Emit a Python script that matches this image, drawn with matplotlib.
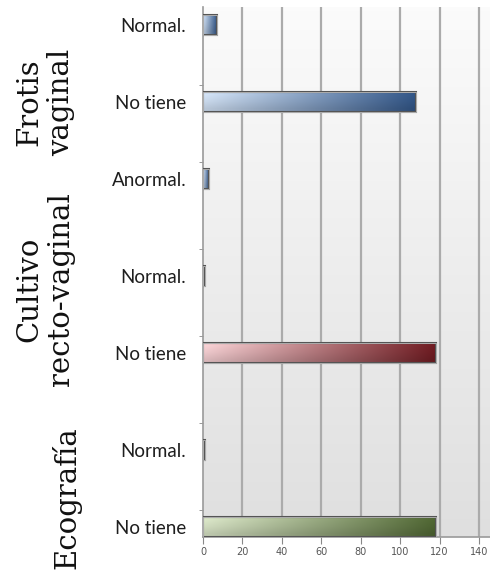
import numpy as np
import matplotlib
matplotlib.use("Agg")
import matplotlib.pyplot as plt
from matplotlib.patches import Rectangle
from matplotlib.colors import to_rgb
import matplotlib.transforms as mtransforms

# Data: three exam groups, categories listed top to bottom
groups = ["Frotis\nvaginal", "Cultivo\nrecto-vaginal", "Ecografía"]
frotis_labels = ["Normal.", "No tiene", "Anormal."]
frotis_values = [7, 108, 3]
cultivo_labels = ["Normal.", "No tiene"]
cultivo_values = [1, 118]
eco_labels = ["Normal.", "No tiene"]
eco_values = [1, 118]
x_ticks = [0, 20, 40, 60, 80, 100, 120, 140]

# Styling
group_colors = [("#c9d8ea", "#2f5180"), ("#ecc8cb", "#6a1a20"), ("#d0dbbf", "#4b6130")]
group_gap = 0.26
bar_h = 0.27

fig = plt.figure(figsize=(4.9, 5.71), dpi=100)
ax = fig.add_axes([203 / 490, 1 - 537 / 571, 1 - 203 / 490, (537 - 7) / 571])

# Build y positions: consecutive rows, extra gap between groups
all_sets = [(frotis_labels, frotis_values), (cultivo_labels, cultivo_values), (eco_labels, eco_values)]
positions, labels, values, colors, group_pos = [], [], [], [], []
idx = 0
for g, (labs, vals) in enumerate(all_sets):
    start = len(positions)
    for lab, v in zip(labs, vals):
        positions.append(idx + g * group_gap)
        labels.append(lab)
        values.append(v)
        colors.append(group_colors[g])
        idx += 1
    group_pos.append(np.mean(positions[start:]))

ymin, ymax = -0.234, positions[-1] + 0.13
xmax = 145.5

# Vertical grey gradient background of the plot area
bg = np.linspace(0.985, 0.875, 256)[:, None] * np.ones((256, 2))
ax.imshow(np.dstack([bg, bg, bg]), extent=(0, xmax, ymax, ymin), aspect="auto",
          zorder=0, interpolation="bicubic")

for xt in x_ticks[1:]:
    ax.axvline(xt, color="#ababab", lw=1.6, zorder=1)

# Gradient-filled bars
for y, v, (c0, c1) in zip(positions, values, colors):
    a, b = np.array(to_rgb(c0)), np.array(to_rgb(c1))
    t = np.linspace(0, 1, 256)
    row = a[None, :] * (1 - t[:, None]) + b[None, :] * t[:, None]
    shade = np.array([1.06, 1.0, 0.92])[:, None, None]
    img = np.clip(row[None, :, :] * shade, 0, 1)
    rect = Rectangle((0, y - bar_h / 2), v, bar_h, facecolor="none",
                     edgecolor="#555555", lw=1.5, zorder=4)
    ax.add_patch(rect)
    im = ax.imshow(img, extent=(0, v, y + bar_h / 2, y - bar_h / 2), aspect="auto",
                   zorder=3, interpolation="bilinear")
    im.set_clip_path(rect)
    inner = Rectangle((0, y - bar_h / 2), v, bar_h, facecolor="none",
                      edgecolor="#ffffff", lw=0.6, alpha=0.6, zorder=4.5)
    ax.add_patch(inner)

ax.set_xlim(0, xmax)
ax.set_ylim(ymax, ymin)
ax.set_xticks(x_ticks)
ax.set_xticklabels([str(x) for x in x_ticks], fontsize=7, color="#555555",
                   family="DejaVu Sans")
ax.set_yticks(positions)
ax.set_yticklabels(labels, fontsize=13.5, family="Lato", color="#1e1e1e")
ax.tick_params(axis="y", length=0, pad=12)
ax.tick_params(axis="x", length=5, color="#888888", pad=2)

# Small boundary marks on the category axis
bounds = [(positions[i] + positions[i + 1]) / 2 + 0.28 for i in range(len(positions) - 1)]
ax.set_yticks(bounds, minor=True)
ax.tick_params(axis="y", which="minor", length=3, color="#888888")

for side in ["top", "right"]:
    ax.spines[side].set_visible(False)
for side in ["left", "bottom"]:
    ax.spines[side].set_color("#9a9a9a")
    ax.spines[side].set_linewidth(1.2)

# Group titles, rotated, in the left margin
trans = mtransforms.blended_transform_factory(fig.transFigure, ax.transData)
group_y = [group_pos[0], group_pos[1] - 0.33, group_pos[2] + 0.12]
for name, gy in zip(groups, group_y):
    ax.text(45 / 490 if "\n" in name else 66 / 490, gy, name, transform=trans,
            rotation=90, ha="center", va="center", fontsize=21,
            family="DejaVu Serif", color="#111111", linespacing=1.15,
            clip_on=False)

fig.savefig("out.png", dpi=100)
